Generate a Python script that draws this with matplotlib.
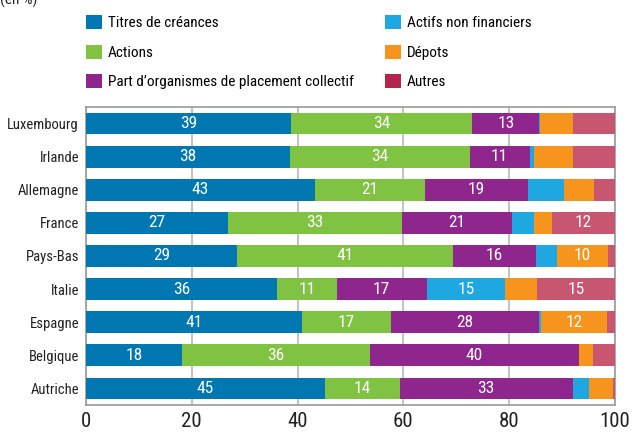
import matplotlib
matplotlib.use("Agg")
import matplotlib.pyplot as plt
from matplotlib.patches import Patch
import numpy as np

plt.rcParams['font.family'] = ['Roboto Condensed', 'Liberation Sans', 'DejaVu Sans']

countries = ["Luxembourg", "Irlande", "Allemagne", "France", "Pays-Bas",
             "Italie", "Espagne", "Belgique", "Autriche"]
titres = [38.8, 38.5, 43.2, 26.8, 28.6, 36.2, 40.8, 18.1, 45.1]
actions = [34.2, 34.0, 20.9, 32.9, 40.8, 11.2, 16.9, 35.5, 14.2]
opc = [12.7, 11.4, 19.4, 20.8, 15.7, 17.0, 28.0, 39.6, 32.7]
actifs = [0.2, 0.8, 6.9, 4.1, 4.0, 14.9, 0.4, 0.0, 3.0]
depots = [6.2, 7.3, 5.6, 3.4, 9.6, 5.9, 12.3, 2.7, 4.7]
autres = [7.9, 8.0, 4.0, 12.0, 1.3, 14.8, 1.6, 4.1, 0.3]

series_names = ["Titres de créances", "Actions",
                "Part d\u2019organismes de placement collectif",
                "Actifs non financiers", "Dépots", "Autres"]
series = [titres, actions, opc, actifs, depots, autres]
bar_colors = ["#0077B0", "#80C241", "#8E268E", "#1EA7E1", "#F7941D", "#C85671"]
legend_colors = ["#0077B0", "#80C241", "#8E268E", "#1EA7E1", "#F7941D", "#B5244A"]
xticks = [0, 20, 40, 60, 80, 100]

fig = plt.figure(figsize=(6.32, 4.37), dpi=100)
ax = fig.add_axes([86/632, 1-405/437, (615-86)/632, (405-107)/437])

y = np.arange(len(countries))
left = np.zeros(len(countries))
for vals, col in zip(series, bar_colors):
    vals = np.array(vals)
    ax.barh(y, vals, left=left, height=0.66, color=col, zorder=3)
    for yi, (l, v) in enumerate(zip(left, vals)):
        if v >= 9.5:
            ax.text(l + v/2, yi, f"{int(round(v))}", ha='center', va='center',
                    color='white', fontsize=12.5, zorder=4)
    left += vals

ax.set_xlim(0, 100)
ax.set_ylim(len(countries) - 0.5, -0.5)
ax.set_yticks(y)
ax.set_yticklabels(countries, fontsize=10.5, color='#222222')
ax.set_xticks(xticks)
ax.set_xticklabels([str(t) for t in xticks], fontsize=15, color='#222222')
ax.tick_params(axis='both', length=0)
ax.tick_params(axis='y', pad=5)
ax.tick_params(axis='x', pad=5)
ax.grid(axis='x', color='#C4C4C4', linewidth=1.5, zorder=0)
for s in ax.spines.values():
    s.set_color('#9A9A9A')
    s.set_linewidth(1.2)

handles = [Patch(facecolor=c, edgecolor='none') for c in legend_colors]
legkw = dict(loc='upper left', frameon=False, fontsize=11, handlelength=1.05,
             handleheight=1.05, handletextpad=0.4, labelspacing=0.93,
             borderaxespad=0, borderpad=0)
leg1 = fig.legend(handles[:3], series_names[:3],
                  bbox_to_anchor=(86/632, 1-15/437), **legkw)
leg2 = fig.legend(handles[3:], series_names[3:],
                  bbox_to_anchor=(385/632, 1-15/437), **legkw)

fig.text(0.0, 1.0, "(en %)", ha='left', va='center', fontsize=11, color='#222222')

fig.savefig("out.png", dpi=100)
